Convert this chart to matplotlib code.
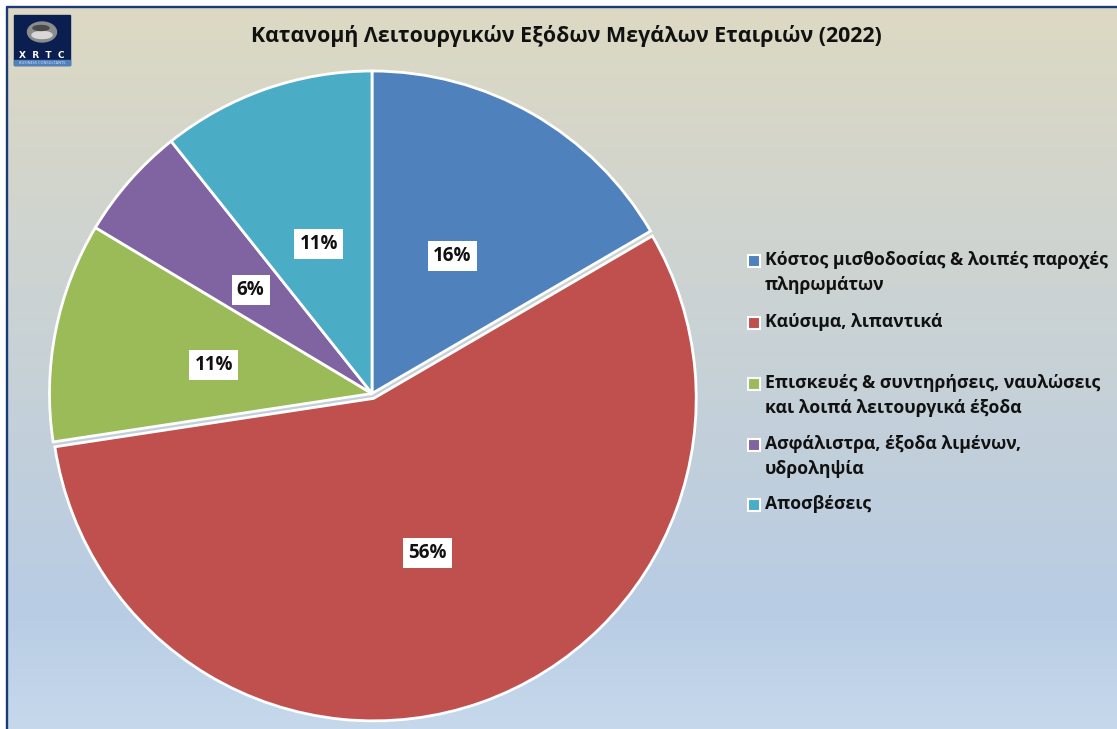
from matplotlib import pyplot as plt
from matplotlib.patches import Rectangle, Ellipse
import numpy as np

plt.rcParams['font.family'] = ['Open Sans', 'DejaVu Sans']

W, H = 1117, 729

# data
categories = [
    'Κόστος μισθοδοσίας & λοιπές παροχές\nπληρωμάτων',
    'Καύσιμα, λιπαντικά',
    'Επισκευές & συντηρήσεις, ναυλώσεις\nκαι λοιπά λειτουργικά έξοδα',
    'Ασφάλιστρα, έξοδα λιμένων,\nυδροληψία',
    'Αποσβέσεις',
]
values = [16.6, 56.0, 11.0, 5.7, 10.7]
pct_labels = ['16%', '56%', '11%', '6%', '11%']
explode = [0, 0.016, 0, 0, 0]
colors = ['#4F81BD', '#C0504D', '#9BBB59', '#8064A2', '#4BACC6']
title = 'Κατανομή Λειτουργικών Εξόδων Μεγάλων Εταιριών (2022)'

fig = plt.figure(figsize=(W / 100, H / 100), dpi=100)

# background in pixel coords
bg = fig.add_axes([0, 0, 1, 1])
bg.axis('off')
grad = np.array([[221, 217, 195], [184, 204, 228], [198, 217, 236]]) / 255
t = np.linspace(0, 1, 300)
rows = np.stack([np.interp(t, [0, 0.84, 1], grad[:, i]) for i in range(3)], axis=1)
bg.imshow(rows[:, None, :], extent=[7, W, H, 7], aspect='auto', zorder=0)
bg.set_xlim(0, W)
bg.set_ylim(H, 0)
bg.plot([7, 7, W], [H, 7, 7], color='#1A3A78', lw=1.7, zorder=1)

# logo
bg.add_patch(Rectangle((14, 15), 56, 50, color='#0A1E50', zorder=2))
bg.add_patch(Rectangle((14, 60), 56, 5, color='#4F81BD', zorder=3))
bg.add_patch(Ellipse((42, 32), 29, 20, color='#8C8C8C', zorder=3))
bg.add_patch(Ellipse((42, 35), 20, 7, color='#D8D8D8', zorder=4))
bg.add_patch(Ellipse((41, 28), 16, 5, color='#4A4A4A', zorder=4))
bg.text(42, 55, 'X  R  T  C', color='white', fontsize=6.5, fontweight='bold',
        family='DejaVu Sans', ha='center', va='center', zorder=4)
bg.text(42, 62.5, 'BUSINESS CONSULTANTS', color='#DCE6F1', fontsize=2.8,
        ha='center', va='center', zorder=4)

bg.text(566, 36, title, fontsize=15.4, fontweight='bold', color='#111111',
        ha='center', va='center', zorder=3)

# pie around (372, 393.5), axes a bit wider for the exploded slice
cx, cy, r, m = 372, 393.5, 322.5, 340
ax = fig.add_axes([(cx - m) / W, 1 - (cy + m) / H, 2 * m / W, 2 * m / H])
wedges, texts = ax.pie(values, labels=pct_labels, explode=explode, colors=colors,
                       startangle=90, counterclock=False, radius=1, labeldistance=0.5,
                       wedgeprops={'edgecolor': 'white', 'linewidth': 2})
ax.set_xlim(-m / r, m / r)
ax.set_ylim(-m / r, m / r)
ax.patch.set_alpha(0)
for tx in texts:
    tx.set(fontsize=13.5, fontweight='bold', color='#111111', ha='center', va='center_baseline',
           bbox={'facecolor': 'white', 'edgecolor': 'none', 'pad': 3.6})

# legend by hand because the row gaps are uneven
legend_y = [261, 323, 384, 445, 505]
for name, c, y in zip(categories, colors, legend_y):
    bg.add_patch(Rectangle((748, y - 6), 12, 12, facecolor=c, edgecolor='white', lw=1.5, zorder=3))
    bg.text(765, y - 10, name, fontsize=12.7, fontweight='bold', color='#111111',
            ha='left', va='top', linespacing=1.53, zorder=3)

fig.savefig('out.png', dpi=100)
